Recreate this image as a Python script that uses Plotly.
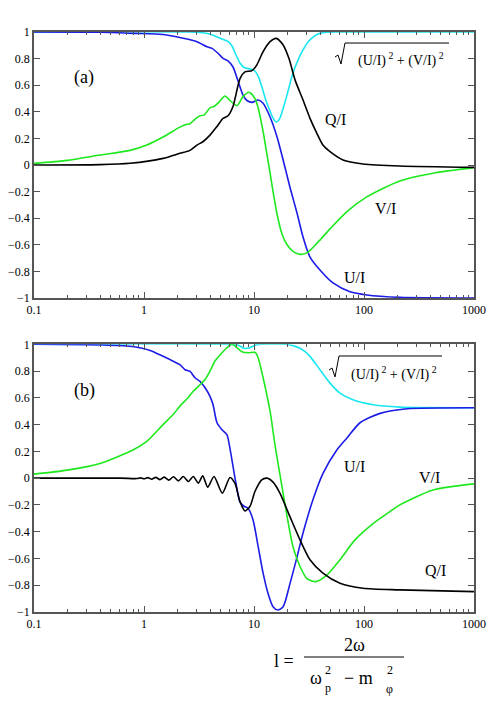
import plotly.graph_objects as go

# ---- panel (a) ----
a_x_sq = [0.1, 2.62, 3.59, 4.42, 5.12, 5.80, 6.31, 6.86, 7.46, 8.11, 9.20, 10.0, 10.9, 11.8, 12.9,
          14.0, 14.9, 16.0, 17.2, 18.7, 20.4, 22.6, 25.1, 27.9, 31.0, 34.4, 38.2, 45.2, 60.5, 1000]
a_sq = [1.0, 1.0, 0.992, 0.970, 0.947, 0.929, 0.895, 0.827, 0.767, 0.733, 0.722, 0.714, 0.669, 0.586, 0.481,
        0.406, 0.353, 0.323, 0.353, 0.444, 0.556, 0.692, 0.789, 0.865, 0.925, 0.962, 0.985, 0.998, 1.0, 1.0]

a_x_u = [0.1, 0.398, 0.794, 1.49, 2.26, 3.03, 3.74, 4.15, 4.71, 5.23, 5.80, 6.44, 7.16, 7.94, 8.63, 9.59,
         10.9, 12.1, 14.0, 16.2, 18.4, 21.2, 24.6, 27.9, 32.3, 39.8, 52.3, 74.6, 106, 212, 1000]
a_u = [1.0, 0.998, 0.990, 0.981, 0.953, 0.927, 0.889, 0.877, 0.840, 0.802, 0.782, 0.737, 0.632, 0.526, 0.485, 0.471,
       0.489, 0.464, 0.361, 0.211, 0.038, -0.165, -0.361, -0.541, -0.692, -0.789, -0.887, -0.953, -0.977, -0.995, -1.0]

a_x_v = [0.1, 0.2, 0.398, 0.746, 1.06, 1.49, 2.12, 2.41, 2.62, 2.91, 3.23, 3.51, 3.98, 4.33, 4.71, 5.45, 6.05,
         7.00, 7.94, 9.01, 10.2, 10.9, 11.6, 12.3, 13.1, 14.0, 14.9, 16.2, 18.0, 20.0, 22.6, 26.2, 31.0, 38.2,
         49.1, 70.0, 106, 212, 424, 1000]
a_v = [0.012, 0.035, 0.075, 0.11, 0.15, 0.21, 0.285, 0.305, 0.31, 0.345, 0.37, 0.375, 0.43, 0.44, 0.465, 0.519, 0.485,
       0.446, 0.514, 0.547, 0.50, 0.43, 0.33, 0.22, 0.08, -0.06, -0.2, -0.37, -0.52, -0.6, -0.65, -0.672, -0.655, -0.58,
       -0.48, -0.35, -0.24, -0.12, -0.062, -0.02]

a_x_q = [0.1, 0.398, 0.746, 1.49, 2.12, 2.62, 3.03, 3.43, 3.98, 4.61, 5.23, 5.80, 6.44, 7.46, 8.27, 9.59, 10.6,
         12.1, 14.0, 15.9, 18.4, 20.8, 23.6, 27.9, 32.3, 37.3, 42.3, 49.1, 64.4, 98, 212, 1000]
a_q = [0.0, 0.003, 0.013, 0.05, 0.088, 0.11, 0.15, 0.175, 0.225, 0.29, 0.35, 0.37, 0.44, 0.65, 0.70, 0.71, 0.752,
       0.852, 0.927, 0.952, 0.902, 0.80, 0.64, 0.489, 0.351, 0.238, 0.15, 0.10, 0.038, 0.008, -0.008, -0.018]

# ---- panel (b) ----
b_x_sq = [0.1, 5.45, 7.16, 8.11, 9.20, 10.4, 11.8, 19.1, 22.6, 26.2, 29.1, 32.3, 39.8, 49.1, 60.5, 79.4, 121, 212, 1000]
b_sq = [1.0, 1.0, 0.995, 0.97, 0.975, 0.995, 1.0, 1.0, 0.99, 0.97, 0.945, 0.91, 0.81, 0.71, 0.635, 0.585, 0.548, 0.531, 0.526]

b_x_u = [0.1, 0.398, 0.746, 1.135, 1.49, 1.84, 2.12, 2.36, 2.62, 2.91, 3.23, 3.59, 3.98, 4.24, 4.61, 5.12, 5.68,
         6.05, 6.44, 6.86, 7.46, 8.11, 8.82, 9.79, 10.9, 12.1, 13.4, 14.9, 16.5, 18.4, 21.2, 24.6, 27.9, 34.4,
         42.4, 56.8, 70.0, 92.0, 140, 246, 1000]
b_u = [1.0, 0.995, 0.985, 0.954, 0.91, 0.874, 0.848, 0.81, 0.798, 0.75, 0.723, 0.675, 0.611, 0.55, 0.414, 0.361, 0.324,
       0.22, 0.09, -0.04, -0.18, -0.21, -0.225, -0.31, -0.51, -0.71, -0.86, -0.96, -0.985, -0.96, -0.79, -0.59, -0.41, -0.16,
       0.035, 0.212, 0.3, 0.414, 0.484, 0.518, 0.526]

b_x_v = [0.1, 0.2, 0.398, 0.794, 1.06, 1.49, 1.84, 2.12, 2.51, 2.79, 3.23, 3.59, 3.98, 4.42, 5.12, 5.68, 6.31,
         7.00, 7.78, 8.82, 10.2, 10.9, 12.1, 14.0, 15.5, 17.6, 20.0, 22.6, 26.2, 30.3, 36.6, 46.1, 60.5, 82.8,
         121, 172, 212, 424, 1000]
b_v = [0.03, 0.06, 0.11, 0.21, 0.274, 0.40, 0.475, 0.538, 0.60, 0.648, 0.698, 0.737, 0.80, 0.875, 0.937, 0.975, 1.0,
       0.975, 0.945, 0.937, 0.94, 0.9, 0.75, 0.5, 0.25, -0.02, -0.287, -0.511, -0.66, -0.75, -0.773, -0.723, -0.61, -0.461,
       -0.339, -0.25, -0.2, -0.088, -0.043]

b_x_q = [0.1, 0.605, 0.860, 0.926, 1.0, 1.083, 1.175, 1.280, 1.397, 1.529, 1.681, 1.854, 2.05, 2.275, 2.527,
         2.806, 3.117, 3.418, 3.793, 4.33, 5.15, 6.05, 6.72, 7.46, 8.27, 9.20, 10.2, 11.75, 13.1, 14.9, 17.2,
         21.2, 26.2, 32.3, 42.3, 60.5, 98, 212, 1000]
b_q = [0.0, 0.0, -0.003, 0.002, -0.005, 0.004, -0.008, 0.006, -0.011, 0.008, -0.015, 0.010, -0.02, 0.012, -0.025,
       0.012, -0.037, 0.017, -0.067, 0.012, -0.112, 0.005, -0.04, -0.175, -0.245, -0.21, -0.10, -0.013, 0.0, -0.03, -0.112,
       -0.287, -0.461, -0.61, -0.71, -0.785, -0.823, -0.835, -0.848]

x_ticks = [0.1, 1, 10, 100, 1000]
x_tick_text = ['0.1', '1', '10', '100', '1000']
y_ticks = [-1, -0.8, -0.6, -0.4, -0.2, 0, 0.2, 0.4, 0.6, 0.8, 1]

BLACK = '#000000'
BLUE = '#1c1ce6'
GREEN = '#1ee81e'
CYAN = '#18e6f0'
SERIF = 'Liberation Serif'

# the page body keeps its default 8px margin; keep the figure small enough not to overflow
OFF = 8
W, H = 488, 700
L, R, T = 34 - OFF, W - (474 - OFF), 32 - OFF
B = H - (612 - OFF)          # plot area on the page: x 34..474, y 32..612


def px(x):
    # page pixel -> paper fraction
    return (x - OFF - L) / (W - L - R)


def py(y):
    return (H - B - (y - OFF)) / (H - T - B)


fig = go.Figure()

panels = [
    ('x', 'y', [(a_x_sq, a_sq, CYAN), (a_x_u, a_u, BLUE), (a_x_v, a_v, GREEN), (a_x_q, a_q, BLACK)]),
    ('x2', 'y2', [(b_x_sq, b_sq, CYAN), (b_x_u, b_u, BLUE), (b_x_v, b_v, GREEN), (b_x_q, b_q, BLACK)]),
]
for xa, ya, curves in panels:
    for xs, ys, col in curves:
        fig.add_trace(go.Scatter(
            x=xs, y=ys, xaxis=xa, yaxis=ya, mode='lines',
            line=dict(color=col, width=1.6, shape='spline', smoothing=0.7),
            showlegend=False, hoverinfo='skip'
        ))

minor_vals = [m * d for d in (0.1, 1, 10, 100) for m in range(2, 10)]
xaxis_style = dict(
    type='log', range=[-1, 3], tickmode='array', tickvals=x_ticks, ticktext=x_tick_text,
    ticks='inside', ticklen=6, tickwidth=1, tickcolor='#555',
    minor=dict(tickmode='array', tickvals=minor_vals, ticks='inside', ticklen=3, tickcolor='#555', showgrid=False),
    showline=True, linecolor='#555', linewidth=1.5, mirror='ticks',
    showgrid=False, zeroline=False, automargin=False,
    tickfont=dict(family=SERIF, size=12, color='black'),
)
yaxis_style = dict(
    range=[-1, 1], tickmode='array', tickvals=y_ticks,
    ticks='inside', ticklen=6, tickwidth=1, tickcolor='#555',
    showline=True, linecolor='#555', linewidth=1.5, mirror='ticks',
    showgrid=False, zeroline=False, automargin=False,
    tickfont=dict(family=SERIF, size=12, color='black'),
)

top_dom = [py(298), 1.0]
bot_dom = [0.0, py(344.3)]

fig.update_layout(
    width=W, height=H,
    margin=dict(l=L, r=R, t=T, b=B, autoexpand=False),
    paper_bgcolor='white', plot_bgcolor='white',
    xaxis=dict(xaxis_style, domain=[0, 1], anchor='y'),
    yaxis=dict(yaxis_style, domain=top_dom, anchor='x'),
    xaxis2=dict(xaxis_style, domain=[0, 1], anchor='y2'),
    yaxis2=dict(yaxis_style, domain=bot_dom, anchor='x2'),
)


def label(text, x, y, size=16, **kw):
    fig.add_annotation(text=text, x=px(x), y=py(y), xref='paper', yref='paper',
                       showarrow=False, xanchor='center', yanchor='middle',
                       font=dict(family=SERIF, size=size, color='black'), **kw)


def path(points):
    return 'M ' + ' L '.join(f'{px(a):.4f},{py(b):.4f}' for a, b in points)


# curve labels
label('(a)', 84, 77, 18)
label('Q/I', 335, 120)
label('V/I', 385, 208)
label('U/I', 354, 277)
label('(b)', 84, 390, 18)
label('U/I', 354, 466)
label('V/I', 429, 477)
label('Q/I', 435, 570)

# square-root labels
sq_text = '(U/I)<sup> 2</sup> + (V/I)<sup> 2</sup>'
label(sq_text, 401, 60, 14)
label(sq_text, 394, 373, 14)
for pts in ([(335, 57), (338, 55), (341, 64), (345, 43), (449, 43)],
            [(329, 370), (332, 368), (335, 377), (339, 356), (442, 356)]):
    fig.add_shape(type='path', path=path(pts), xref='paper', yref='paper',
                  line=dict(color='black', width=1))

# formula under the plots
label('l =', 284, 661, 18)
label('2ω', 354, 645, 18)
fig.add_shape(type='line', xref='paper', yref='paper',
              x0=px(304), x1=px(404), y0=py(657), y1=py(657), line=dict(color='black', width=1))
label('ω', 316, 678, 18)
label('2', 328, 670, 12)
label('p', 328, 688, 12)
label('− m', 358, 678, 18)
label('2', 390, 670, 12)
label('φ', 389, 689, 12)

fig.write_html('out.html')
